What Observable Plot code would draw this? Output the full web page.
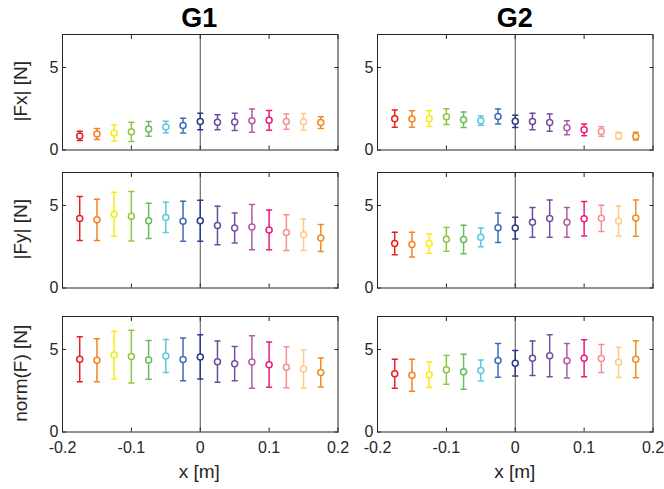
<!DOCTYPE html>
<html><head><meta charset="utf-8">
<script src="https://cdn.jsdelivr.net/npm/d3@7"></script>
<script src="https://cdn.jsdelivr.net/npm/@observablehq/plot@0.6"></script>
<style>
body{margin:0;background:#fff;}
#chart{position:relative;width:664px;height:489px;font-family:"Liberation Sans",Arial,sans-serif;color:#262626;}
.panel{position:absolute;}
#overlay{position:absolute;left:0;top:0;}
</style></head><body><div id="chart"></div>
<script>
// ---- data ----
const groups = ["G1", "G2"];
const rowLabels = ["|Fx| [N]", "|Fy| [N]", "norm(F) [N]"];
const xLabel = "x [m]";
const xPos = [-0.175, -0.15, -0.125, -0.1, -0.075, -0.05, -0.025, 0, 0.025, 0.05, 0.075, 0.1, 0.125, 0.15, 0.175];
const colors = ["#ED1C24", "#F58220", "#F7EC13", "#8DC63F", "#67BC5C", "#5EC8DF", "#3D6DB5", "#2B3986",
                "#6A4C9C", "#7B4F9F", "#B15AA5", "#EC1B7B", "#F4918F", "#FDCA8A", "#EE8E22"];
const xTicks = [-0.2, -0.1, 0, 0.1, 0.2];
const yTicks = [0, 5];

const g1FxMean = [0.85, 0.97, 1.03, 1.10, 1.28, 1.40, 1.48, 1.73, 1.68, 1.70, 1.78, 1.80, 1.72, 1.71, 1.66];
const g1FxSd   = [0.28, 0.33, 0.48, 0.58, 0.44, 0.35, 0.45, 0.50, 0.45, 0.52, 0.70, 0.60, 0.46, 0.50, 0.36];
const g2FxMean = [1.90, 1.88, 1.90, 2.02, 1.84, 1.78, 2.03, 1.74, 1.73, 1.66, 1.35, 1.22, 1.12, 0.87, 0.84];
const g2FxSd   = [0.52, 0.50, 0.48, 0.48, 0.47, 0.28, 0.45, 0.37, 0.50, 0.52, 0.43, 0.35, 0.29, 0.20, 0.23];

const g1FyMean = [4.21, 4.13, 4.47, 4.35, 4.07, 4.28, 4.05, 4.08, 3.79, 3.63, 3.69, 3.52, 3.36, 3.23, 3.03];
const g1FySd   = [1.33, 1.25, 1.34, 1.50, 1.07, 0.92, 1.21, 1.24, 1.17, 0.91, 1.37, 1.20, 1.08, 0.95, 0.82];
const g2FyMean = [2.70, 2.63, 2.69, 2.95, 2.94, 3.07, 3.65, 3.63, 3.98, 4.21, 3.98, 4.20, 4.22, 4.06, 4.24];
const g2FySd   = [0.68, 0.75, 0.58, 0.72, 0.87, 0.57, 0.89, 0.66, 0.90, 1.13, 0.90, 1.05, 0.80, 0.91, 1.10];

const g1NMean = [4.41, 4.35, 4.66, 4.57, 4.37, 4.60, 4.40, 4.55, 4.26, 4.14, 4.24, 4.08, 3.92, 3.82, 3.61];
const g1NSd   = [1.36, 1.30, 1.45, 1.60, 1.17, 1.00, 1.30, 1.34, 1.25, 1.04, 1.59, 1.37, 1.24, 1.15, 0.88];
const g2NMean = [3.53, 3.44, 3.47, 3.77, 3.65, 3.73, 4.34, 4.17, 4.47, 4.62, 4.32, 4.47, 4.45, 4.22, 4.41];
const g2NSd   = [0.88, 0.97, 0.78, 0.87, 1.06, 0.64, 1.02, 0.77, 1.05, 1.27, 1.04, 1.12, 0.85, 0.92, 1.12];

const panelsData = [
  [[g1FxMean, g1FxSd], [g2FxMean, g2FxSd]],
  [[g1FyMean, g1FySd], [g2FyMean, g2FySd]],
  [[g1NMean, g1NSd], [g2NMean, g2NSd]]
];

// ---- layout ----
const colLeft = [61.5, 377];
const frameW = 275.5;
const rowTop = [33.5, 171.5, 315.5];
const frameH = 115.5;
const ML = 40, MR = 6, MT = 6, MB = 6, MBlast = 36;
const axisColor = "#262626";

const capShape = {draw(ctx, l) { ctx.moveTo(-l / 2, 0); ctx.lineTo(l / 2, 0); }};

function panel(mean, sd, last) {
  const data = xPos.map((x, i) => ({x, m: mean[i], lo: mean[i] - sd[i], hi: mean[i] + sd[i], c: colors[i]}));
  const fmt = d => String(d);
  return Plot.plot({
    width: ML + frameW + MR,
    height: MT + frameH + (last ? MBlast : MB),
    marginLeft: ML, marginRight: MR, marginTop: MT, marginBottom: last ? MBlast : MB,
    style: {fontFamily: '"Liberation Sans", Arial, sans-serif', fontSize: "16px", color: axisColor, background: "transparent", overflow: "visible"},
    x: {domain: [-0.2, 0.2], label: null},
    y: {domain: [0, 7], label: null},
    color: {type: "identity"},
    marks: [
      Plot.ruleX([0], {stroke: axisColor, strokeWidth: 0.8}),
      Plot.frame({stroke: axisColor, strokeWidth: 1}),
      Plot.axisX({anchor: "bottom", ticks: xTicks, tickSize: -4, fill: "none", stroke: axisColor}),
      Plot.axisX({anchor: "top", ticks: xTicks, tickSize: -4, fill: "none", stroke: axisColor}),
      Plot.axisY({anchor: "left", ticks: yTicks, tickSize: -4, fill: "none", stroke: axisColor}),
      Plot.axisY({anchor: "right", ticks: yTicks, tickSize: -4, fill: "none", stroke: axisColor}),
      Plot.axisY({anchor: "left", ticks: yTicks, tickFormat: fmt, tickSize: 0, tickPadding: 4, label: null, fill: axisColor, fontSize: 16}),
      last ? Plot.axisX({anchor: "bottom", ticks: xTicks, tickFormat: fmt, tickSize: 0, tickPadding: 10, label: null, fill: axisColor, fontSize: 16}) : null,
      Plot.ruleX(data, {x: "x", y1: "lo", y2: "hi", stroke: "c", strokeWidth: 1.5}),
      Plot.vector(data, {x: "x", y: "hi", stroke: "c", length: 5, shape: capShape, anchor: "start", rotate: 0, strokeWidth: 1.5}),
      Plot.vector(data, {x: "x", y: "lo", stroke: "c", length: 5, shape: capShape, anchor: "start", rotate: 0, strokeWidth: 1.5}),
      Plot.dot(data, {x: "x", y: "m", r: 3, stroke: "c", fill: "white", strokeWidth: 1.5})
    ]
  });
}

const chart = document.getElementById("chart");
panelsData.forEach((row, r) => {
  row.forEach(([mean, sd], c) => {
    const el = panel(mean, sd, r === 2);
    el.classList.add("panel");
    el.style.left = (colLeft[c] - ML) + "px";
    el.style.top = (rowTop[r] - MT) + "px";
    chart.appendChild(el);
  });
});

// overlay texts
const svg = d3.select(chart).append("svg").attr("id", "overlay").attr("width", 664).attr("height", 489)
  .style("font-family", '"Liberation Sans", Arial, sans-serif').style("overflow", "visible");
groups.forEach((g, c) => {
  const cx = colLeft[c] + frameW / 2;
  svg.append("text").attr("x", cx).attr("y", 27).attr("text-anchor", "middle")
    .attr("font-size", 27).attr("font-weight", "bold").attr("fill", "#000").text(g);
  svg.append("text").attr("x", cx).attr("y", 478).attr("text-anchor", "middle")
    .attr("font-size", 19).attr("fill", axisColor).text(xLabel);
});
rowLabels.forEach((t, r) => {
  const cy = rowTop[r] + frameH / 2;
  svg.append("text").attr("transform", `translate(27,${cy}) rotate(-90)`).attr("text-anchor", "middle")
    .attr("font-size", 19).attr("fill", axisColor).text(t);
});
</script></body></html>
